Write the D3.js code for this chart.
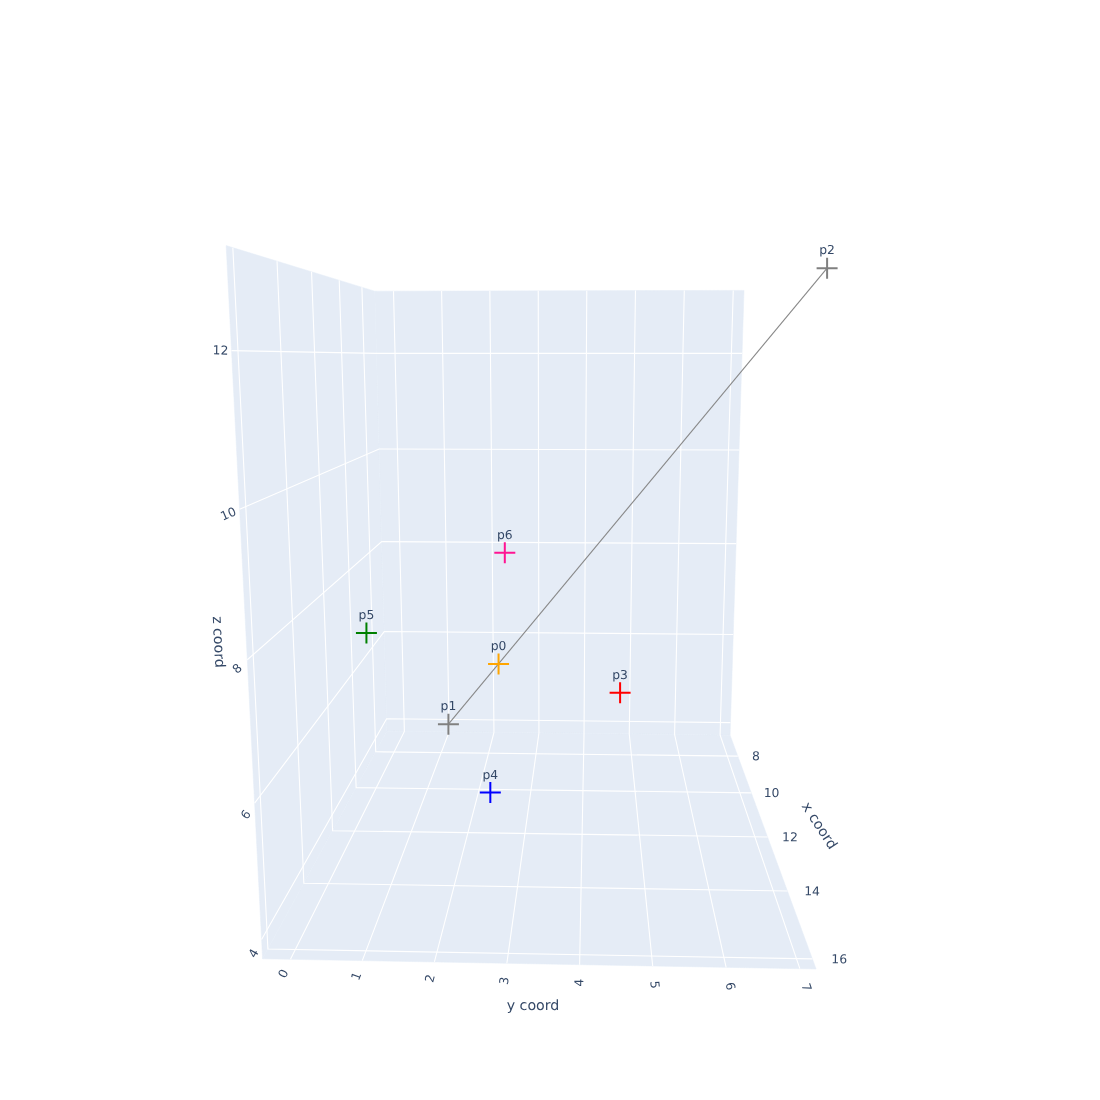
<!DOCTYPE html>
<html><head><meta charset="utf-8">
<script src="https://cdn.jsdelivr.net/npm/d3@7"></script>
<style>html,body{margin:0;background:#fff}svg{display:block;will-change:transform}text{font-family:"DejaVu Sans",Verdana,sans-serif;fill:#2a3f5f;opacity:.95;text-rendering:geometricPrecision}</style>
</head><body><div id="chart"></div>
<script>
const pointNames=["p0","p1","p2","p3","p4","p5","p6"];
const pointColors=["orange","gray","gray","red","blue","green","deeppink"];
const xValues=[9,7,16,10,12,11,9];
const yValues=[2.31,1.03,7,4.69,2.40,0.11,2.45];
const zValues=[5.94,4,13,5.68,4.46,7.05,8.18];
const linkedPoints=[1,2];
const xDomain=[6.68,16.26], yDomain=[-0.39,7.22], zDomain=[3.71,13.27];
const xTicks=[8,10,12,14,16], yTicks=[0,1,2,3,4,5,6,7], zTicks=[4,6,8,10,12];
const W=1100,H=1100;
const sx=d3.scaleLinear().domain(xDomain).range([0,1]);
const sy=d3.scaleLinear().domain(yDomain).range([0,1]);
const sz=d3.scaleLinear().domain(zDomain).range([0,1]);
const [x0,x1]=xDomain,[y0,y1]=yDomain,[z0,z1]=zDomain;
// camera calibration: scene positions and where they appear on the page
const calibData=[[x1,y0,z1,226.5,245.5],[x0,y0,z1,375,291],[x0,y1,z1,744,290.5],[x0,y1,z0,730.7,735],[x1,y1,z0,816,970],[x1,y0,z0,262.3,959],[x0,y0,z0,386,733],
[8,y0,z0,376,752],[10,y0,z0,356,787],[12,y0,z0,333,829],[14,y0,z0,304,882],[16,y0,z0,268,949],
[8,y1,z0,738,756],[10,y1,z0,751,792],[12,y1,z0,767.6,837],[14,y1,z0,787,891],[16,y1,z0,812,959.7],
[x1,0,z0,291,959.3],[x1,1,z0,362.7,961],[x1,2,z0,435,963],[x1,5,z0,652.7,965.5],[x1,6,z0,726,967],[x1,7,z0,800,968.5],
[x1,y0,4,262,940],[x1,y0,6,254,804],[x1,y0,8,246.7,659],[x1,y0,10,239,509],[x1,y0,12,231.7,351]];
const calib=calibData.map(([x,y,z,X,Y])=>[sx(x),sy(y),sz(z),X,Y]);
function solveCam(c){
 const A=[],b=[];
 c.forEach(([u,v,w,X,Y])=>{
  A.push([u,v,w,1,0,0,0,0,-X*u,-X*v,-X*w]);b.push(X);
  A.push([0,0,0,0,u,v,w,1,-Y*u,-Y*v,-Y*w]);b.push(Y);
 });
 const n=11,M=d3.range(n).map(i=>d3.range(n+1).map(j=>{
  let s=0;A.forEach((r,k)=>{s+=r[i]*(j<n?r[j]:b[k]);});return s;}));
 for(let i=0;i<n;i++){
  let p=i;for(let r=i+1;r<n;r++)if(Math.abs(M[r][i])>Math.abs(M[p][i]))p=r;
  [M[i],M[p]]=[M[p],M[i]];
  for(let r=0;r<n;r++)if(r!==i){const f=M[r][i]/M[i][i];for(let j=i;j<=n;j++)M[r][j]-=f*M[i][j];}
 }
 return d3.range(n).map(i=>M[i][n]/M[i][i]);
}
const P=solveCam(calib);
function proj(x,y,z){
 const u=sx(x),v=sy(y),w=sz(z);
 const d=P[8]*u+P[9]*v+P[10]*w+1;
 return [(P[0]*u+P[1]*v+P[2]*w+P[3])/d,(P[4]*u+P[5]*v+P[6]*w+P[7])/d];
}
const svg=d3.select("#chart").append("svg").attr("width",W).attr("height",H);
const line=d3.line();
const walls=[[[x1,y0,z1],[x0,y0,z1],[x0,y0,z0],[x1,y0,z0]],[[x0,y0,z1],[x0,y1,z1],[x0,y1,z0],[x0,y0,z0]],[[x0,y0,z0],[x0,y1,z0],[x1,y1,z0],[x1,y0,z0]]];
svg.selectAll("path.wall").data(walls).join("path").attr("class","wall").attr("fill","#E5ECF6").attr("stroke","#E5ECF6").attr("stroke-width",.5)
 .attr("d",d=>line(d.map(p=>proj(...p)))+"Z");
const grid=[];
zTicks.forEach(z=>grid.push([[x1,y0,z],[x0,y0,z],[x0,y1,z]]));
xTicks.forEach(x=>grid.push([[x,y0,z1],[x,y0,z0],[x,y1,z0]]));
yTicks.forEach(y=>grid.push([[x0,y,z1],[x0,y,z0],[x1,y,z0]]));
svg.selectAll("path.grid").data(grid).join("path").attr("class","grid").attr("fill","none").attr("stroke","#fff").attr("stroke-width",1.1)
 .attr("d",d=>line(d.map(p=>proj(...p))));
function tickLabel(txt,end,inner,off){
 const a=proj(...inner),b=proj(...end);
 let dx=b[0]-a[0],dy=b[1]-a[1];const L=Math.hypot(dx,dy);dx/=L;dy/=L;
 let ang=Math.atan2(dy,dx)*180/Math.PI;if(ang>90)ang-=180;if(ang<-90)ang+=180;
 svg.append("text").attr("text-anchor","middle").attr("dominant-baseline","central").attr("font-size",12.3)
  .attr("transform",`translate(${b[0]+dx*off},${b[1]+dy*off}) rotate(${ang})`).text(txt);
}
zTicks.forEach(z=>tickLabel(z,[x1,y0,z],[x0,y0,z],11+(12-z)*.6));
xTicks.forEach(x=>tickLabel(x,[x,y1,z0],[x,y0,z0],18+(x-8)*1.1));
yTicks.forEach(y=>tickLabel(y,[x1,y,z0],[x0,y,z0],16+y*.55));
function axisTitle(txt,cx,cy,ang){
 svg.append("text").attr("text-anchor","middle").attr("dominant-baseline","central").attr("font-size",14.2)
  .attr("transform",`translate(${cx},${cy}) rotate(${ang})`).text(txt);
}
axisTitle("z coord",218,642,87);
axisTitle("x coord",819,826,57);
axisTitle("y coord",533,1006,0);
const pts=pointNames.map((n,i)=>({name:n,color:pointColors[i],p:proj(xValues[i],yValues[i],zValues[i])}));
svg.append("path").attr("fill","none").attr("stroke","#888").attr("stroke-width",1.1)
 .attr("d",line(linkedPoints.map(i=>pts[i].p)));
const arm=10.5;
const g=svg.selectAll("g.pt").data(pts).join("g").attr("class","pt").attr("transform",d=>`translate(${d.p[0]},${d.p[1]})`);
g.append("path").attr("fill","none").attr("stroke",d=>d.color).attr("stroke-width",2)
 .attr("d",line([[-arm,0],[arm,0]])+line([[0,-arm],[0,arm]]));
g.append("text").attr("text-anchor","middle").attr("y",-14).attr("font-size",12.3).text(d=>d.name);
</script></body></html>
